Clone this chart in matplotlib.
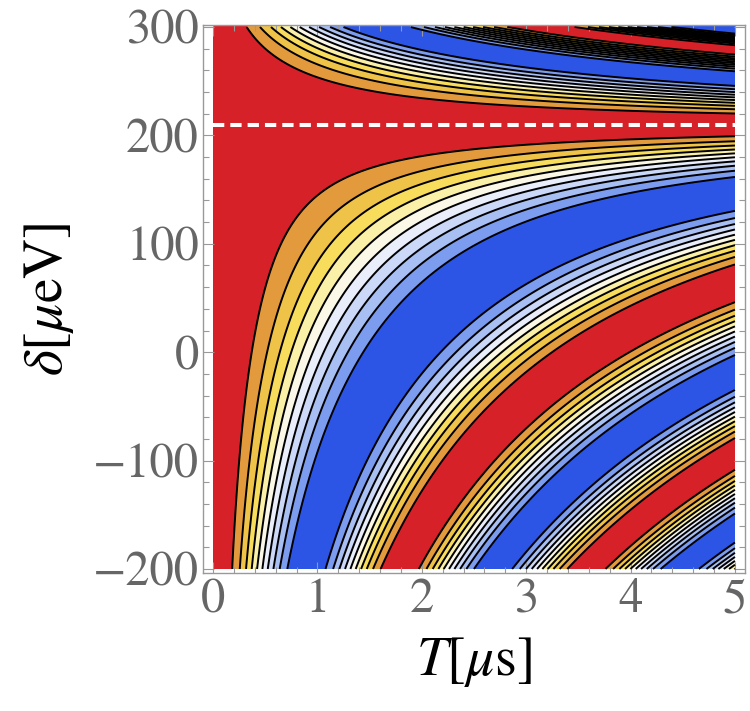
import numpy as np
import matplotlib
matplotlib.use("Agg")
import matplotlib.pyplot as plt
from matplotlib.colors import ListedColormap
from matplotlib.ticker import MultipleLocator

plt.rcParams['font.family'] = ['STIXGeneral', 'DejaVu Serif']
plt.rcParams['mathtext.fontset'] = 'stix'

# axis ranges
t_range = [0.0, 5.0]          # T [us]
d_range = [-200.0, 300.0]     # delta [ueV]

# resonance where the fringes flatten out (dashed line)
delta0 = 210.0

# phase rate per ueV of detuning (rad / us / ueV)
below_base = 0.0077
below_near = 0.0048
below_scale = 80.0
below_far = 0.0008
above_lin = 0.0125
above_cub = 1.2e-6

# contour levels of cos(phase): 10 lines, outer values clipped to red / blue
levels = np.linspace(-0.8, 0.8, 10)

band_colors = ['#7c9cf0', '#a8bff4', '#cbd8f8', '#e9eefa', '#fbf8e8',
               '#fbf0a8', '#f8dc5c', '#efc248', '#e39a3c']
color_low = '#2c55e6'
color_high = '#d62128'

x_ticks = [0, 1, 2, 3, 4, 5]
y_ticks = [-200, -100, 0, 100, 200, 300]


def phase_rate(d):
    dd = d - delta0
    a = np.abs(dd)
    below = a * (below_base + below_near * np.exp(-a / below_scale)
                 + below_far * (a / 400.0) ** 2)
    above = above_lin * a + above_cub * a ** 3
    return np.where(dd < 0, below, above)


T = np.linspace(t_range[0], t_range[1], 700)
D = np.linspace(d_range[0], d_range[1], 1000)
TT, DD = np.meshgrid(T, D)
Z = np.cos(TT * phase_rate(DD))

cmap = ListedColormap(band_colors)
cmap.set_under(color_low)
cmap.set_over(color_high)

fig = plt.figure(figsize=(7.5, 7.11), dpi=100)
ax = fig.add_axes([0.2707, 0.1941, 0.7226, 0.7707])

ax.contourf(TT, DD, Z, levels=levels, cmap=cmap, extend='both')
ax.contour(TT, DD, Z, levels=levels, colors='black', linewidths=1.4,
           linestyles='solid')
ax.plot(t_range, [delta0, delta0], color='white', lw=2.9,
        ls=(0, (2.8, 1.5)), solid_capstyle='butt')

ax.set_xlim(-0.096, 5.096)
ax.set_ylim(-203.7, 301.8)

ax.set_xticks(x_ticks)
ax.set_yticks(y_ticks)
ax.set_yticklabels([f"\u2212{abs(v)}" if v < 0 else str(v) for v in y_ticks])
ax.xaxis.set_minor_locator(MultipleLocator(0.2))
ax.yaxis.set_minor_locator(MultipleLocator(20))

for s in ax.spines.values():
    s.set_color('#999999')
    s.set_linewidth(1.0)
ax.tick_params(which='both', direction='in', top=True, right=True,
               color='#999999', width=0.8, labelcolor='#666666',
               labelsize=35, pad=3)
ax.tick_params(which='major', length=8)
ax.tick_params(which='minor', length=4.5)
ax.tick_params(axis='x', pad=4)
ax.tick_params(labeltop=False, labelright=False)

ax.set_xlabel(r'$T[\mu\mathrm{s}]$', fontsize=40, labelpad=8)
ax.set_ylabel(r'$\delta[\mu\mathrm{eV}]$', fontsize=40, labelpad=12)

fig.savefig('out.png', dpi=100)
